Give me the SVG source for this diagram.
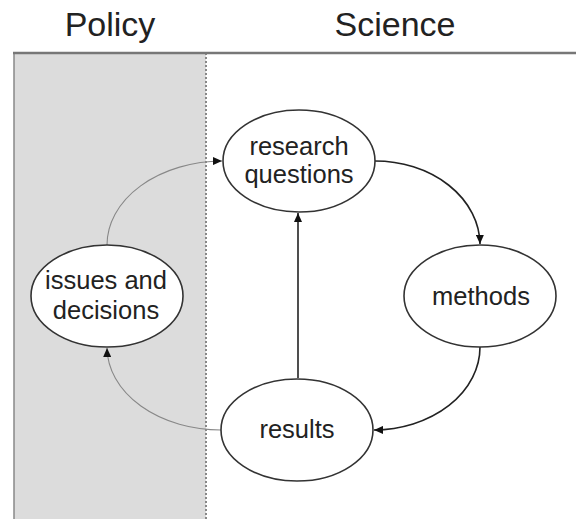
<svg xmlns="http://www.w3.org/2000/svg" width="576" height="519" viewBox="0 0 576 519">
<style>
.title{font-family:"Liberation Sans",Arial,sans-serif;font-size:34px;fill:#222;text-anchor:middle}
.lbl{font-family:"Liberation Sans",Arial,sans-serif;font-size:25.5px;fill:#222;text-anchor:middle}
.node{fill:#fff;stroke:#333;stroke-width:1.6}
.dark{fill:none;stroke:#222;stroke-width:1.6}
.light{fill:none;stroke:#888;stroke-width:1.1}
</style>
<defs>
<marker id="ah" markerUnits="userSpaceOnUse" markerWidth="10" markerHeight="8" refX="9" refY="4" orient="auto">
<path d="M0,0 L9,4 L0,8 Z" fill="#111"/>
</marker>
</defs>
<rect x="14" y="53" width="192" height="470" fill="#dcdcdc"/>
<line x1="14" y1="53" x2="14" y2="519" stroke="#888" stroke-width="1.5"/>
<line x1="206" y1="53" x2="206" y2="519" stroke="#888" stroke-width="2" stroke-dasharray="2,2"/>
<line x1="13" y1="53" x2="576" y2="53" stroke="#777" stroke-width="2.5"/>
<text class="title" x="110" y="36">Policy</text>
<text class="title" x="395" y="36">Science</text>
<g id="connectors">
<path class="dark" d="M375,161 A105,84 0 0 1 480,244" marker-end="url(#ah)"/>
<path class="dark" d="M480,347 A107,83 0 0 1 374,430" marker-end="url(#ah)"/>
<path class="dark" d="M298,378 L298,213" marker-end="url(#ah)"/>
<path class="light" d="M221,430 A114,83 0 0 1 107,348" marker-end="url(#ah)"/>
<path class="light" d="M107,245 A116,84 0 0 1 222,161" marker-end="url(#ah)"/>
</g>
<g id="research">
<ellipse class="node" cx="299" cy="161" rx="76" ry="51"/>
<text class="lbl" x="299" y="155">research</text>
<text class="lbl" x="299" y="183">questions</text>
</g>
<g id="methods">
<ellipse class="node" cx="480" cy="296" rx="76" ry="51"/>
<text class="lbl" x="481" y="305">methods</text>
</g>
<g id="results">
<ellipse class="node" cx="297" cy="430" rx="76" ry="51"/>
<text class="lbl" x="297" y="438">results</text>
</g>
<g id="issues">
<ellipse class="node" cx="107" cy="296" rx="76" ry="51"/>
<text class="lbl" x="106" y="289">issues and</text>
<text class="lbl" x="106" y="319">decisions</text>
</g>
</svg>
